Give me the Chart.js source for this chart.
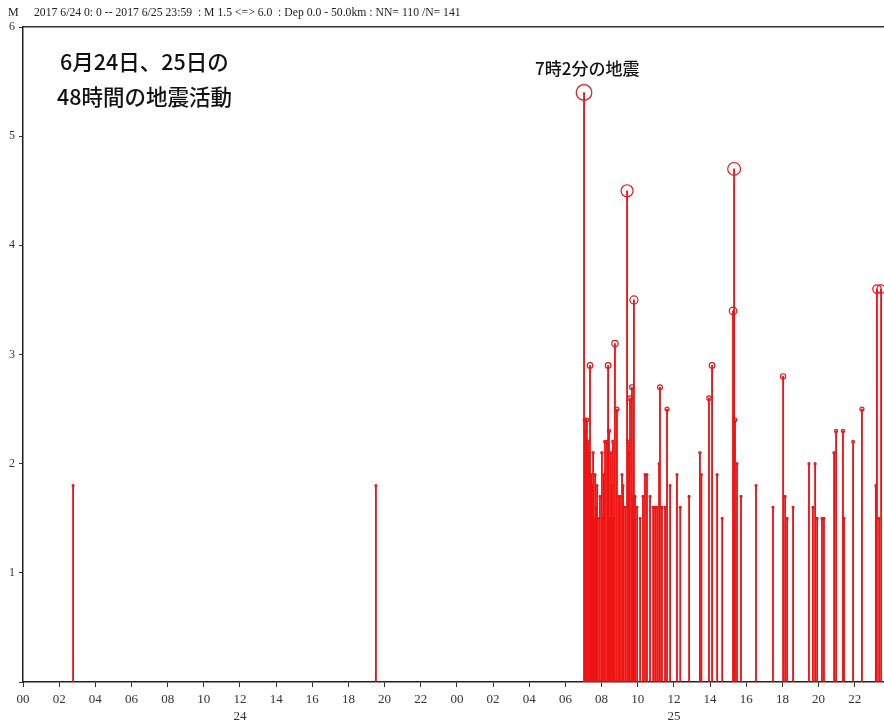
<!DOCTYPE html>
<html>
<head>
<meta charset="utf-8">
<script src="https://cdn.jsdelivr.net/npm/chart.js@4.4.1/dist/chart.umd.min.js"></script>
<style>
    html, body { margin: 0; padding: 0; background: #fff; }
    #wrap { width: 884px; height: 722px; }
</style>
</head>
<body>
<div id="wrap"><canvas id="quake-chart"></canvas></div>
<script>
'use strict';

// Section 1: Data (hours counted from 6/24 0:00, magnitude)
const eventHours = [
    2.77, 19.52,
    31.03, 31.08, 31.12, 31.19, 31.25, 31.30, 31.36, 31.42, 31.47, 31.53,
    31.58, 31.64, 31.70, 31.75, 31.80, 31.91, 32.02, 32.08, 32.13, 32.19,
    32.30, 32.36, 32.41, 32.47, 32.52, 32.58, 32.63, 32.69, 32.74, 32.85,
    32.96, 33.02, 33.13, 33.19, 33.30, 33.41, 33.46, 33.52, 33.57, 33.68,
    33.74, 33.79, 33.85, 33.96, 34.13, 34.29, 34.40, 34.51, 34.68, 34.85,
    34.96, 35.07, 35.18, 35.23, 35.34, 35.51, 35.62, 35.79, 36.17, 36.35,
    36.84, 37.44, 37.52, 37.94, 38.11, 38.39, 38.67, 39.27, 39.33, 39.38,
    39.49, 39.71, 40.54, 41.48, 42.04, 42.15, 42.26, 42.59, 43.47, 43.69,
    43.81, 43.92, 44.19, 44.30, 44.86, 44.97, 45.35, 45.41, 45.91, 46.40,
    47.17, 47.23, 47.35, 47.46
];
const eventMags = [
    1.8, 1.8,
    5.4, 2.4, 2.3, 2.4, 2.2, 2.1, 2.9, 1.9, 1.8, 2.1,
    1.5, 1.9, 1.6, 1.8, 1.5, 1.7, 2.1, 1.5, 1.9, 2.2,
    2.2, 2.9, 2.3, 1.5, 2.1, 1.8, 2.2, 1.5, 3.1, 2.5,
    1.7, 1.7, 1.9, 1.8, 1.6, 4.5, 2.2, 2.1, 2.6, 2.7,
    1.7, 3.5, 1.7, 1.6, 1.5, 1.7, 1.9, 1.9, 1.7, 1.6,
    1.6, 1.6, 2.0, 2.7, 1.6, 1.6, 2.5, 1.8, 1.9, 1.6,
    1.7, 2.1, 1.9, 2.6, 2.9, 1.9, 1.5, 3.4, 4.7, 2.4,
    2.0, 1.7, 1.8, 1.6, 2.8, 1.7, 1.5, 1.6, 2.0, 1.6,
    2.0, 1.5, 1.5, 1.5, 2.1, 2.3, 2.3, 1.5, 2.2, 2.5,
    1.8, 3.6, 1.5, 3.6
];

const tickHours = [0, 2, 4, 6, 8, 10, 12, 14, 16, 18, 20, 22,
                   24, 26, 28, 30, 32, 34, 36, 38, 40, 42, 44, 46];
const tickLabels = ["00", "02", "04", "06", "08", "10", "12", "14", "16", "18", "20", "22",
                    "00", "02", "04", "06", "08", "10", "12", "14", "16", "18", "20", "22"];
const dayLabels = {12: "24", 36: "25"};

const headerText = "2017 6/24 0: 0 -- 2017 6/25 23:59  : M 1.5 <=> 6.0  : Dep 0.0 - 50.0km : NN= 110 /N= 141";
const noteLines = ["6月24日、25日の", "48時間の地震活動"];
const mainShockNote = "7時2分の地震";

const stemColor = "rgb(238,20,20)";
const serifFont = "'Liberation Serif', 'DejaVu Serif', serif";
const jpFont = "'Noto Sans CJK JP', 'Noto Sans', sans-serif";

// Section 2: Chart
const eventPoints = eventHours.map((h, i) => ({x: h, y: eventMags[i]}));

// header line and the two notes
const textPlugin = {
    id: "textPlugin",
    afterDraw(chart) {
        const ctx = chart.ctx;
        ctx.save();
        ctx.fillStyle = "#222";
        ctx.textBaseline = "middle";
        ctx.font = "12px " + serifFont;
        ctx.fillText("M", 8, 13);
        ctx.font = "11.7px " + serifFont;
        ctx.fillText(headerText, 34, 13);

        ctx.fillStyle = "#111";
        ctx.font = "500 21.5px " + jpFont;
        ctx.fillText(noteLines[0], 60, 62);
        ctx.fillText(noteLines[1], 57, 97);

        ctx.font = "500 17px " + jpFont;
        ctx.fillText(mainShockNote, 535, 69);
        ctx.restore();
    }
};

const quakeConfig = {
    type: "bar",
    data: {
        datasets: [
            {
                type: "scatter",
                label: "magnitude",
                data: eventPoints,
                pointStyle: "circle",
                pointRadius: ctx => Math.max(1, (ctx.raw.y - 1.5) * 2),
                pointBackgroundColor: "rgba(0,0,0,0)",
                pointBorderColor: stemColor,
                pointBorderWidth: 1.2,
            },
            {
                type: "bar",
                label: "stem",
                data: eventPoints,
                backgroundColor: stemColor,
                barThickness: 1.2,
                grouped: false,
            },
        ],
    },
    options: {
        responsive: true,
        maintainAspectRatio: false,
        animation: false,
        events: [],
        layout: {
            autoPadding: false,
            padding: {top: 27, left: 0, right: 0, bottom: 0},
        },
        scales: {
            x: {
                type: "linear",
                min: 0,
                max: 47.62,
                offset: false,
                afterBuildTicks: scale => {
                    scale.ticks = tickHours.map(v => ({value: v}));
                },
                afterFit: scale => {
                    scale.height = 40;
                    scale.paddingLeft = 0;
                    scale.paddingRight = 0;
                },
                grid: {
                    offset: false,
                    drawOnChartArea: false,
                    tickLength: 5,
                    color: "#333",
                },
                border: {
                    color: "#222",
                    width: 1.5,
                },
                ticks: {
                    autoSkip: false,
                    maxRotation: 0,
                    padding: 4,
                    color: "#333",
                    font: {family: serifFont, size: 13, lineHeight: 1.3},
                    callback: (value, index) => {
                        const hour = tickHours[index];
                        return dayLabels[hour] ? [tickLabels[index], dayLabels[hour]] : tickLabels[index];
                    },
                },
            },
            xTop: {
                type: "linear",
                position: "top",
                min: 0,
                max: 47.62,
                afterFit: scale => {
                    scale.height = 0;
                    scale.paddingLeft = 0;
                    scale.paddingRight = 0;
                },
                grid: {display: false},
                ticks: {display: false},
                border: {color: "#333", width: 1.5},
            },
            y: {
                type: "linear",
                min: 0,
                max: 6,
                afterFit: scale => {
                    scale.width = 23;
                    scale.paddingTop = 0;
                    scale.paddingBottom = 0;
                },
                grid: {
                    drawOnChartArea: false,
                    tickLength: 4,
                    color: "#333",
                },
                border: {
                    color: "#222",
                    width: 1.5,
                },
                ticks: {
                    stepSize: 1,
                    padding: 4,
                    color: "#333",
                    font: {family: serifFont, size: 12},
                    callback: value => value === 0 ? "" : `${value}`,
                },
            },
        },
        plugins: {
            legend: {display: false},
            tooltip: {enabled: false},
            title: {display: false},
        },
    },
    plugins: [textPlugin],
};

const quakeCtx = document.querySelector("#quake-chart");
const quakeChart = new Chart(quakeCtx, quakeConfig);
</script>
</body>
</html>
